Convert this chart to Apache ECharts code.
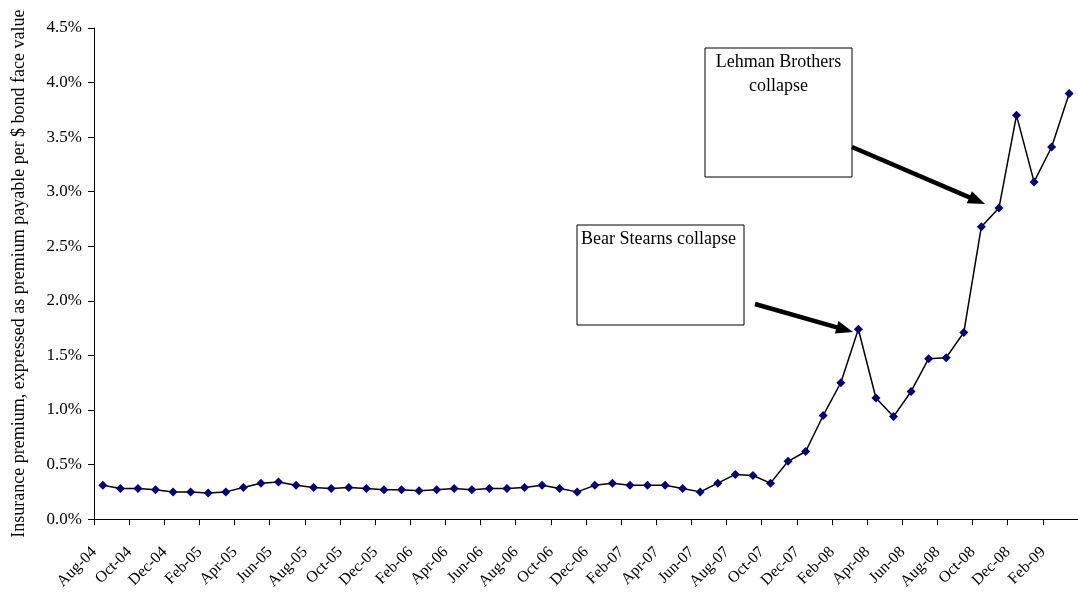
<!DOCTYPE html>
<html>
<head>
<meta charset="utf-8">
<script src="https://cdn.jsdelivr.net/npm/echarts@6/dist/echarts.min.js"></script>
<style>
html,body{margin:0;padding:0;background:#fff;}
#chart{width:1078px;height:592px;}
</style>
</head>
<body>
<div id="chart"></div>
<script>
const months = ['Aug-04','Sep-04','Oct-04','Nov-04','Dec-04','Jan-05','Feb-05','Mar-05','Apr-05','May-05','Jun-05','Jul-05',
 'Aug-05','Sep-05','Oct-05','Nov-05','Dec-05','Jan-06','Feb-06','Mar-06','Apr-06','May-06','Jun-06','Jul-06',
 'Aug-06','Sep-06','Oct-06','Nov-06','Dec-06','Jan-07','Feb-07','Mar-07','Apr-07','May-07','Jun-07','Jul-07',
 'Aug-07','Sep-07','Oct-07','Nov-07','Dec-07','Jan-08','Feb-08','Mar-08','Apr-08','May-08','Jun-08','Jul-08',
 'Aug-08','Sep-08','Oct-08','Nov-08','Dec-08','Jan-09','Feb-09','Mar-09'];

// insurance premium, % of bond face value
const premium = [0.31,0.28,0.28,0.27,0.25,0.25,0.24,0.25,0.29,0.33,0.34,0.31,
 0.29,0.28,0.29,0.28,0.27,0.27,0.26,0.27,0.28,0.27,0.28,0.28,
 0.29,0.31,0.28,0.25,0.31,0.33,0.31,0.31,0.31,0.28,0.25,0.33,
 0.41,0.40,0.33,0.53,0.62,0.95,1.25,1.74,1.11,0.94,1.17,1.47,
 1.48,1.71,2.68,2.85,3.70,3.09,3.41,3.90];

const yTicks = [0,0.5,1,1.5,2,2.5,3,3.5,4,4.5];
const yAxisTitle = 'Insurance premium, expressed as premium payable per $ bond face value';
const notes = [
  {text:'Bear Stearns collapse', box:[577,225,167,100], align:'left', arrow:[755,304,853,332]},
  {text:'Lehman Brothers\ncollapse', box:[705,48,147,129], align:'center', arrow:[852,147,985,204]}
];

const FONT = '"Liberation Serif", "DejaVu Serif", serif';
const chart = echarts.init(document.getElementById('chart'), null, {renderer:'canvas'});

function arrowGraphics(a){
  const [x1,y1,x2,y2] = a;
  const dx = x2-x1, dy = y2-y1, L = Math.hypot(dx,dy);
  const ux = dx/L, uy = dy/L, px = -uy, py = ux;
  const hl = 17, hw = 6.5;
  const bx = x2-ux*hl, by = y2-uy*hl;
  return [
    {type:'line', shape:{x1:x1,y1:y1,x2:bx+ux*2,y2:by+uy*2}, style:{stroke:'#000', lineWidth:4.5}, z:100},
    {type:'polygon', shape:{points:[[x2,y2],[bx+px*hw,by+py*hw],[bx-px*hw,by-py*hw]]}, style:{fill:'#000'}, z:100}
  ];
}

const graphics = [];
notes.forEach(n=>{
  const [x,y,w,h] = n.box;
  graphics.push({type:'rect', shape:{x:x,y:y,width:w,height:h}, style:{fill:'#fff', stroke:'#000', lineWidth:1}, z:90});
  graphics.push({type:'text', x: n.align==='center' ? x+w/2 : x+4, y:y+2,
    style:{text:n.text, font:'18px '+FONT, fill:'#000', textAlign:n.align, textVerticalAlign:'top', lineHeight:24}, z:95});
  arrowGraphics(n.arrow).forEach(g=>graphics.push(g));
});

chart.setOption({
  animation:false,
  backgroundColor:'#fff',
  grid:{left:94, top:28, width:990, height:492, containLabel:false},
  xAxis:{
    type:'category', data:months, boundaryGap:true,
    axisLine:{lineStyle:{color:'#000', width:1}},
    axisTick:{show:true, interval:1, length:6, lineStyle:{color:'#000'}},
    axisLabel:{interval:1, rotate:45, margin:22, padding:[0,12,0,0], color:'#000', fontFamily:FONT, fontSize:16},
    splitLine:{show:false}
  },
  yAxis:{
    type:'value', min:0, max:4.5, interval:0.5,
    name:yAxisTitle, nameLocation:'middle', nameGap:66,
    nameTextStyle:{color:'#000', fontFamily:FONT, fontSize:18},
    axisLine:{show:true, lineStyle:{color:'#000', width:1}},
    axisTick:{show:true, length:6, lineStyle:{color:'#000'}},
    axisLabel:{color:'#000', fontFamily:FONT, fontSize:17, margin:12,
      formatter:v=>v.toFixed(1)+'%'},
    splitLine:{show:false}
  },
  series:[{
    type:'line', data:premium,
    lineStyle:{color:'#000', width:1.5},
    symbol:'diamond', symbolSize:9,
    itemStyle:{color:'#000080'},
    z:5
  }],
  graphic:graphics
});
</script>
</body>
</html>
